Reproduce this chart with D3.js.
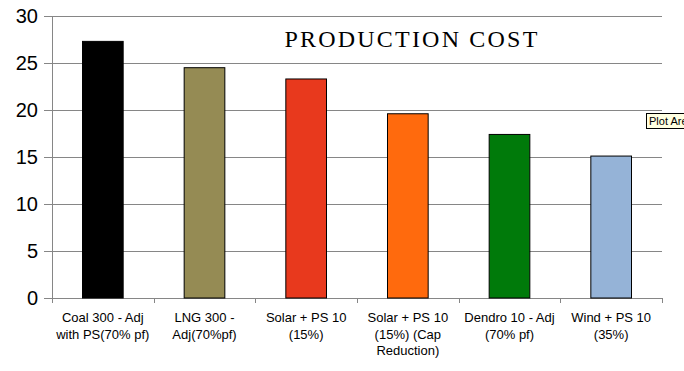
<!DOCTYPE html>
<html>
<head>
<meta charset="utf-8">
<script src="https://cdn.jsdelivr.net/npm/d3@7"></script>
<style>
  body { margin: 0; background: #fff; }
  svg { display: block; }
</style>
</head>
<body>
<svg width="684" height="371"></svg>
<script>
// chart data
const categories = [
  ["Coal 300 - Adj", "with PS(70% pf)"],
  ["LNG 300 -", "Adj(70%pf)"],
  ["Solar + PS 10", "(15%)"],
  ["Solar + PS 10", "(15%) (Cap", "Reduction)"],
  ["Dendro 10 - Adj", "(70% pf)"],
  ["Wind + PS 10", "(35%)"]
]
const values = [27.3, 24.5, 23.3, 19.6, 17.4, 15.1]
const colors = ["#000000", "#958b54", "#e8391d", "#ff6a0d", "#007a0a", "#95b3d7"]
const yTicks = [0, 5, 10, 15, 20, 25, 30]
const title = "PRODUCTION COST"

const svg = d3.select("svg")
const plotLeft = 52, plotRight = 662, plotTop = 16, plotBottom = 298
const axisColor = "#868686"

const x = d3.scaleBand().domain(d3.range(categories.length)).range([plotLeft, plotRight])
const y = d3.scaleLinear().domain([0, 30]).range([plotBottom, plotTop])

// gridlines
svg.selectAll("line.grid")
  .data(yTicks)
  .enter()
  .append("line")
  .attr("x1", plotLeft - 8)
  .attr("x2", plotRight)
  .attr("y1", d => y(d) + 0.5)
  .attr("y2", d => y(d) + 0.5)
  .attr("stroke", axisColor)
  .attr("stroke-width", 1)

// y axis line
svg.append("line")
  .attr("x1", plotLeft + 0.5).attr("x2", plotLeft + 0.5)
  .attr("y1", plotTop).attr("y2", plotBottom + 5)
  .attr("stroke", axisColor)

// x ticks
svg.selectAll("line.xt")
  .data(d3.range(categories.length + 1))
  .enter()
  .append("line")
  .attr("x1", d => Math.round(plotLeft + d * x.bandwidth()) + 0.5)
  .attr("x2", d => Math.round(plotLeft + d * x.bandwidth()) + 0.5)
  .attr("y1", plotBottom)
  .attr("y2", plotBottom + 5)
  .attr("stroke", axisColor)

// y tick labels
svg.selectAll("text.yl")
  .data(yTicks)
  .enter()
  .append("text")
  .attr("x", 38)
  .attr("y", d => y(d) + 7)
  .attr("text-anchor", "end")
  .attr("font-family", "Liberation Sans, Arial, sans-serif")
  .attr("font-size", 20)
  .attr("fill", "#000")
  .text(d => d)

// bars
const bw = x.bandwidth() * 0.4
svg.selectAll("rect.bar")
  .data(values)
  .enter()
  .append("rect")
  .attr("x", (d, i) => x(i) + x.bandwidth() / 2 - bw / 2)
  .attr("y", d => y(d))
  .attr("width", bw)
  .attr("height", d => plotBottom - y(d))
  .attr("fill", (d, i) => colors[i])
  .attr("stroke", "#000")
  .attr("stroke-width", 1)

// category labels
const lab = svg.selectAll("text.xl")
  .data(categories)
  .enter()
  .append("text")
  .attr("text-anchor", "middle")
  .attr("font-family", "Liberation Sans, Arial, sans-serif")
  .attr("font-size", 13)
  .attr("fill", "#000")
lab.selectAll("tspan")
  .data((d, i) => d.map(t => ({t: t, i: i})))
  .enter()
  .append("tspan")
  .attr("x", d => x(d.i) + x.bandwidth() / 2)
  .attr("y", (d, j) => 322 + j * 16.5)
  .text(d => d.t)

// title
svg.append("text")
  .attr("x", 412)
  .attr("y", 47)
  .attr("text-anchor", "middle")
  .attr("font-family", "Liberation Serif, Times New Roman, serif")
  .attr("font-size", 24)
  .attr("letter-spacing", 2.2)
  .attr("fill", "#000")
  .text(title)

// tooltip
svg.append("rect")
  .attr("x", 646.5).attr("y", 113.5)
  .attr("width", 50).attr("height", 15)
  .attr("fill", "#ffffe1").attr("stroke", "#000")
svg.append("text")
  .attr("x", 649).attr("y", 125)
  .attr("font-family", "Liberation Sans, Arial, sans-serif")
  .attr("font-size", 11)
  .text("Plot Area")
</script>
</body>
</html>
